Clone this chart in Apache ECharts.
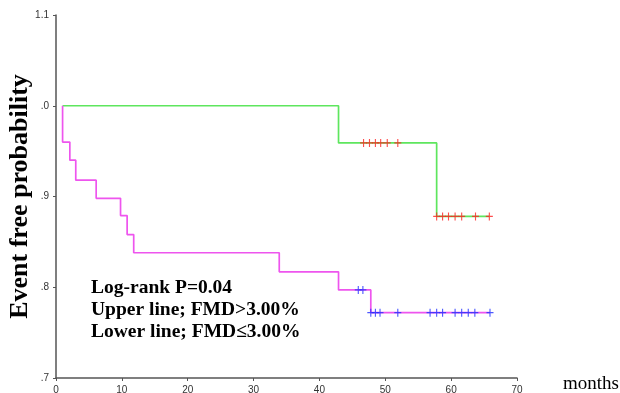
<!DOCTYPE html>
<html>
<head>
<meta charset="utf-8">
<script src="https://cdn.jsdelivr.net/npm/echarts@6/dist/echarts.min.js"></script>
<style>
  html, body { margin: 0; padding: 0; background: #fff; }
  #main { width: 620px; height: 393px; }
</style>
</head>
<body>
<div id="main"></div>
<script>
// upper line (FMD>3.00%) : step points, months / survival
var upperTimes = [1, 42.9, 57.8, 65.8];
var upperSurv = [1.0, 0.959, 0.878, 0.878];
// lower line (FMD<=3.00%)
var lowerTimes = [1, 1, 2.1, 3.0, 6.1, 9.8, 10.8, 11.8, 33.9, 42.9, 47.8, 65.9];
var lowerSurv = [1.0, 0.96, 0.94, 0.918, 0.898, 0.879, 0.858, 0.838, 0.817, 0.797, 0.772, 0.772];
// censored cases
var upperCensorTimes = [46.7, 47.6, 48.5, 49.3, 50.3, 51.9, 57.8, 58.7, 59.6, 60.6, 61.6, 63.7, 65.8];
var upperCensorSurv = [0.959, 0.959, 0.959, 0.959, 0.959, 0.959, 0.878, 0.878, 0.878, 0.878, 0.878, 0.878, 0.878];
var lowerCensorTimes = [45.9, 46.6, 47.8, 48.5, 49.2, 51.9, 56.8, 57.8, 58.7, 60.6, 61.6, 62.6, 63.6, 65.9];
var lowerCensorSurv = [0.797, 0.797, 0.772, 0.772, 0.772, 0.772, 0.772, 0.772, 0.772, 0.772, 0.772, 0.772, 0.772, 0.772];
var xTicks = [0, 10, 20, 30, 40, 50, 60, 70];
var yTickLabels = { '0.7': '.7', '0.8': '.8', '0.9': '.9', '1': '.0', '1.1': '1.1' };

function pairs(xs, ys) {
  return xs.map(function (x, i) { return [x, ys[i]]; });
}

var plus = 'path://M-0.8,-5H0.8V-0.8H5V0.8H0.8V5H-0.8V0.8H-5V-0.8H-0.8Z';

var chart = echarts.init(document.getElementById('main'));
var option = {
  animation: false,
  backgroundColor: '#fff',
  grid: { left: 56, right: 103, top: 15, bottom: 15, containLabel: false, outerBoundsMode: 'none' },
  xAxis: {
    type: 'value',
    min: 0,
    max: 70,
    interval: 10,
    splitLine: { show: false },
    axisLine: { lineStyle: { color: '#555', width: 1.5 } },
    axisTick: { show: true, length: 3, lineStyle: { color: '#555' } },
    axisLabel: {
      margin: 7,
      color: '#333',
      fontSize: 10,
      fontFamily: 'Liberation Sans',
      formatter: function (v) { return xTicks.indexOf(v) >= 0 ? String(v) : ''; }
    }
  },
  yAxis: {
    type: 'value',
    min: 0.7,
    max: 1.1,
    interval: 0.1,
    name: 'Event free probability',
    nameLocation: 'middle',
    nameRotate: 90,
    nameGap: 23,
    nameMoveOverlap: false,
    nameTextStyle: {
      fontFamily: 'Liberation Serif',
      fontWeight: 'bold',
      fontSize: 26,
      color: '#000'
    },
    splitLine: { show: false },
    axisLine: { show: true, lineStyle: { color: '#555', width: 1.5 } },
    axisTick: { show: true, length: 3, lineStyle: { color: '#555' } },
    axisLabel: {
      margin: 7,
      color: '#333',
      fontSize: 10,
      fontFamily: 'Liberation Sans',
      formatter: function (v) {
        var k = String(Math.round(v * 10) / 10);
        return yTickLabels[k] || '';
      }
    }
  },
  series: [
    {
      name: 'upper',
      type: 'line',
      step: 'end',
      symbol: 'none',
      lineStyle: { color: '#5ee65e', width: 1.7 },
      data: pairs(upperTimes, upperSurv),
      z: 2
    },
    {
      name: 'lower',
      type: 'line',
      step: 'end',
      symbol: 'none',
      lineStyle: { color: '#ee55ee', width: 1.7 },
      data: pairs(lowerTimes, lowerSurv),
      z: 2
    },
    {
      name: 'upper censored',
      type: 'scatter',
      symbol: plus,
      symbolSize: [7, 8],
      itemStyle: { color: '#ff2020' },
      data: pairs(upperCensorTimes, upperCensorSurv),
      z: 3
    },
    {
      name: 'lower censored',
      type: 'scatter',
      symbol: plus,
      symbolSize: [7, 8],
      itemStyle: { color: '#2030ff' },
      data: pairs(lowerCensorTimes, lowerCensorSurv),
      z: 3
    }
  ],
  graphic: [
    {
      type: 'text',
      left: 91,
      top: 277,
      style: {
        text: 'Log-rank P=0.04\nUpper line; FMD>3.00%\nLower line; FMD\u22643.00%',
        font: 'bold 19.5px "Liberation Serif"',
        lineHeight: 22,
        fill: '#000'
      }
    },
    {
      type: 'text',
      left: 563,
      top: 375,
      style: {
        text: 'months',
        font: '19px "Liberation Serif"',
        fill: '#000'
      }
    }
  ]
};
chart.setOption(option);
window.addEventListener('resize', chart.resize);
</script>
</body>
</html>
